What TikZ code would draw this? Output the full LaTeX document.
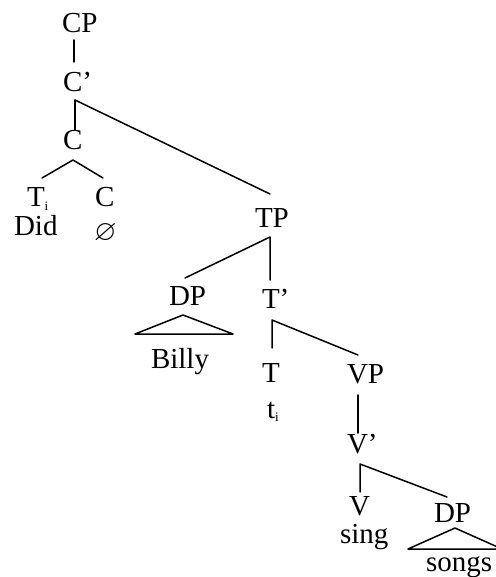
\documentclass[tikz,border=0pt]{standalone}
\usepackage{amssymb}
\usepackage{fontspec}
\setmainfont{Liberation Serif}
\newcommand{\subi}{\raisebox{-0.12em}{\fontsize{13}{13}\selectfont i}}
\begin{document}
\begin{tikzpicture}[x=1pt,y=-1pt,
  lab/.style={anchor=base west,inner sep=0pt,outer sep=0pt,font=\fontsize{29}{33}\selectfont},
  edge/.style={line width=1.5pt,line cap=round,line join=round}]
\useasboundingbox (0,0) rectangle (495,577);
\node[lab] (CP) at (62,33) {CP};
\node[lab] (Cb) at (63,92) {C’};
\node[lab] (C) at (63,150) {C};
\node[lab] (Ti) at (27,207) {T\subi};
\node[lab] (C2) at (95,207) {C};
\node[lab] (Did) at (14,235) {Did};
\node[lab] (null) at (94,240) {$\varnothing$};
\node[lab] (TP) at (255,227) {TP};
\node[lab] (DP) at (169,305) {DP};
\node[lab] (Tb) at (262,308) {T’};
\node[lab] (Billy) at (151,368) {Billy};
\node[lab] (T) at (262,382) {T};
\node[lab] (ti) at (267,418) {t\subi};
\node[lab] (VP) at (347,383) {VP};
\node[lab] (Vb) at (347,453) {V’};
\node[lab] (V) at (349,515) {V};
\node[lab] (sing) at (340,543) {sing};
\node[lab] (DP2) at (434,522) {DP};
\node[lab] (songs) at (426,571) {songs};
% edges
\draw[edge] ([shift={(12,7)}]CP.base west) -- ([shift={(11,-30)}]Cb.base west);
\draw[edge] ([shift={(12,8)}]Cb.base west) -- ([shift={(12,-20)}]C.base west);
\draw[edge] ([shift={(12,8)}]Cb.base west) -- ([shift={(15,-33)}]TP.base west);
\draw[edge] ([shift={(15,-29)}]Ti.base west) -- ([shift={(10,10)}]C.base west) -- ([shift={(8,-29)}]C2.base west);
\draw[edge] ([shift={(16,-27)}]DP.base west) -- ([shift={(15,10)}]TP.base west) -- ([shift={(8,-28)}]Tb.base west);
\draw[edge] ([shift={(14,10)}]DP.base west) -- ([shift={(-34,29)}]DP.base west) -- ([shift={(64,29)}]DP.base west) -- cycle;
\draw[edge] ([shift={(10,-34)}]T.base west) -- ([shift={(10,12)}]Tb.base west) -- ([shift={(11,-28)}]VP.base west);
\draw[edge] ([shift={(11,12)}]VP.base west) -- ([shift={(11,-20)}]Vb.base west);
\draw[edge] ([shift={(11,-23)}]V.base west) -- ([shift={(13,11)}]Vb.base west) -- ([shift={(13,-25)}]DP2.base west);
\draw[edge] ([shift={(21,6)}]DP2.base west) -- ([shift={(-26,27)}]DP2.base west) -- ([shift={(68,27)}]DP2.base west) -- cycle;
\end{tikzpicture}
\end{document}
